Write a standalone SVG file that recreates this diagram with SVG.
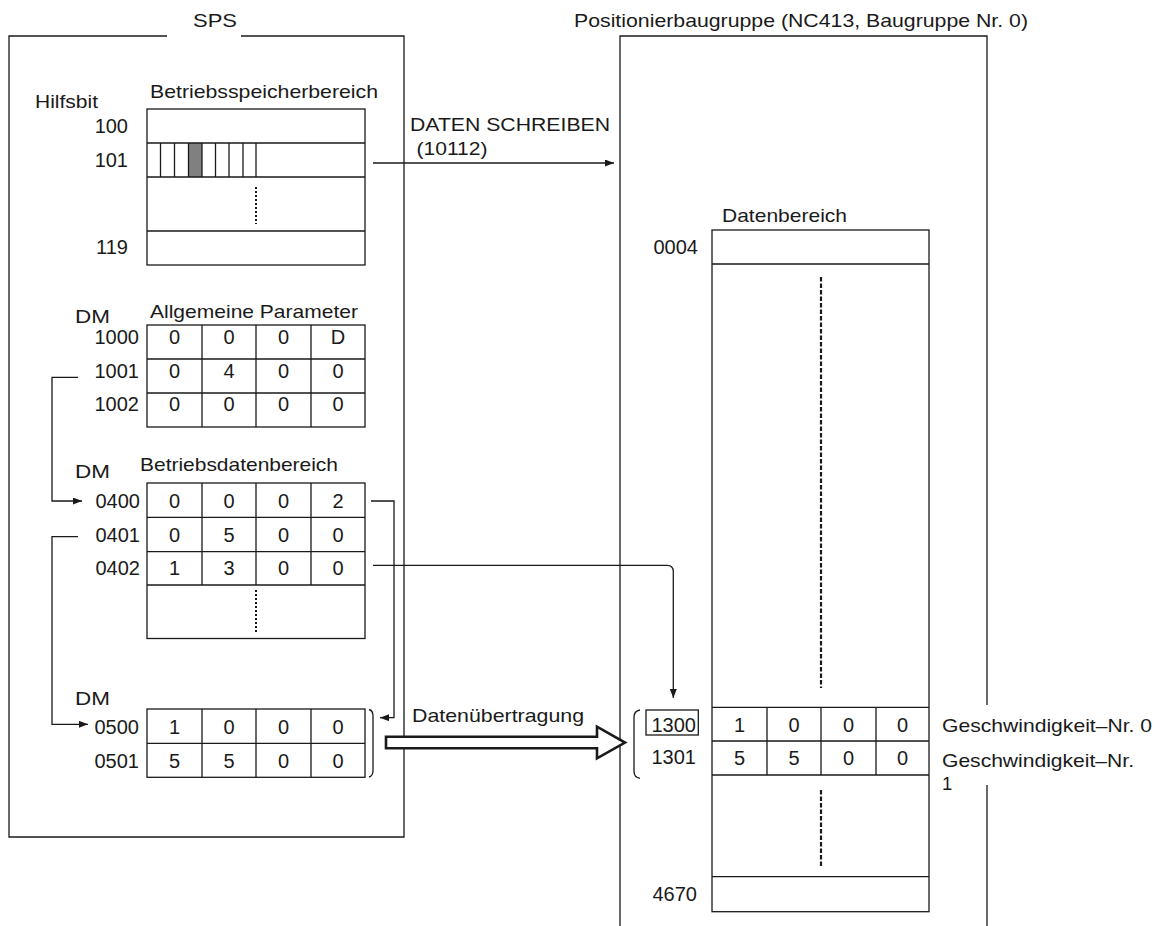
<svg xmlns="http://www.w3.org/2000/svg" width="1161" height="926" viewBox="0 0 1161 926">
<defs>
<style>
.ln{fill:none;stroke:#1a1a1a;stroke-width:1.3}
.bx{fill:#fff;stroke:#1a1a1a;stroke-width:1.3}
.dot{fill:none;stroke:#1a1a1a;stroke-width:2;stroke-dasharray:2 2}
.dash{fill:none;stroke:#1a1a1a;stroke-width:2.2;stroke-dasharray:4.5 2}
.t{font-family:"Liberation Sans",Arial,sans-serif;font-size:18.5px;fill:#1a1a1a}
.n{font-family:"Liberation Sans",Arial,sans-serif;font-size:20px;fill:#1a1a1a}
.c{text-anchor:middle}
.r{text-anchor:end}
</style>
<marker id="ah" markerUnits="userSpaceOnUse" markerWidth="10" markerHeight="8" refX="9" refY="3.5" orient="auto">
<path d="M0,0 L9,3.5 L0,7 z" fill="#1a1a1a"/>
</marker>
</defs>
<rect width="1161" height="926" fill="#fff"/>

<g id="sps">
<path class="ln" d="M167,36 H9 V837 H404 V36 H241"/>
<text class="t" x="193" y="26.5" textLength="44" lengthAdjust="spacingAndGlyphs">SPS</text>
</g>

<g id="positionierbaugruppe">
<path class="ln" d="M620,926 V36 H987 V705 M987,785 V926"/>
<text class="t" x="574" y="26.5" textLength="454" lengthAdjust="spacingAndGlyphs">Positionierbaugruppe (NC413, Baugruppe Nr. 0)</text>
</g>

<g id="betriebsspeicher">
<text class="t" x="35" y="108" textLength="63" lengthAdjust="spacingAndGlyphs">Hilfsbit</text>
<text class="t" x="150" y="97.5" textLength="228" lengthAdjust="spacingAndGlyphs">Betriebsspeicherbereich</text>
<rect x="188.5" y="143" width="13.5" height="34" fill="#808080"/>
<rect class="ln" x="147" y="109" width="218" height="156"/>
<path class="ln" d="M147,143 H365 M147,177 H365 M147,231 H365 M160.5,143 V177 M174.5,143 V177 M188.5,143 V177 M202,143 V177 M215.5,143 V177 M229,143 V177 M243,143 V177 M256,143 V177"/>
<path class="dot" d="M256,187 V224"/>
<text class="n r" x="128" y="132.5">100</text>
<text class="n r" x="128" y="166.5">101</text>
<text class="n r" x="128" y="254">119</text>
</g>

<g id="allgemeine-parameter">
<text class="t" x="150" y="318" textLength="208" lengthAdjust="spacingAndGlyphs">Allgemeine Parameter</text>
<text class="t" x="75" y="323" textLength="35" lengthAdjust="spacingAndGlyphs">DM</text>
<rect class="ln" x="147" y="325" width="218" height="102"/>
<path class="ln" d="M147,359 H365 M147,393 H365 M202,325 V427 M256,325 V427 M311,325 V427"/>
<text class="n r" x="139" y="344">1000</text>
<text class="n r" x="139" y="377.5">1001</text>
<text class="n r" x="139" y="411">1002</text>
<text class="n c" x="174.5" y="344">0</text><text class="n c" x="229" y="344">0</text><text class="n c" x="283.5" y="344">0</text><text class="n c" x="338" y="344">D</text>
<text class="n c" x="174.5" y="377.5">0</text><text class="n c" x="229" y="377.5">4</text><text class="n c" x="283.5" y="377.5">0</text><text class="n c" x="338" y="377.5">0</text>
<text class="n c" x="174.5" y="411">0</text><text class="n c" x="229" y="411">0</text><text class="n c" x="283.5" y="411">0</text><text class="n c" x="338" y="411">0</text>
</g>

<g id="betriebsdatenbereich">
<text class="t" x="140" y="470.5" textLength="198" lengthAdjust="spacingAndGlyphs">Betriebsdatenbereich</text>
<text class="t" x="75" y="478" textLength="35" lengthAdjust="spacingAndGlyphs">DM</text>
<rect class="ln" x="147" y="483" width="218" height="155.5"/>
<path class="ln" d="M147,517.3 H365 M147,551.7 H365 M147,585 H365 M202,483 V585 M256,483 V585 M311,483 V585"/>
<path class="dot" d="M256,590 V632"/>
<text class="n r" x="140" y="508.3">0400</text>
<text class="n r" x="140" y="541.7">0401</text>
<text class="n r" x="140" y="575">0402</text>
<text class="n c" x="174.5" y="508.3">0</text><text class="n c" x="229" y="508.3">0</text><text class="n c" x="283.5" y="508.3">0</text><text class="n c" x="338" y="508.3">2</text>
<text class="n c" x="174.5" y="541.7">0</text><text class="n c" x="229" y="541.7">5</text><text class="n c" x="283.5" y="541.7">0</text><text class="n c" x="338" y="541.7">0</text>
<text class="n c" x="174.5" y="575">1</text><text class="n c" x="229" y="575">3</text><text class="n c" x="283.5" y="575">0</text><text class="n c" x="338" y="575">0</text>
</g>

<g id="dm0500">
<text class="t" x="75" y="705" textLength="35" lengthAdjust="spacingAndGlyphs">DM</text>
<rect class="ln" x="147" y="709" width="218" height="68.3"/>
<path class="ln" d="M147,743.3 H365 M202,709 V777.3 M256,709 V777.3 M311,709 V777.3"/>
<path class="ln" d="M369,709.5 Q373,710.5 373,716 V770.5 Q373,776 369,777"/>
<text class="n r" x="139" y="734">0500</text>
<text class="n r" x="139" y="767.5">0501</text>
<text class="n c" x="174.5" y="734">1</text><text class="n c" x="229" y="734">0</text><text class="n c" x="283.5" y="734">0</text><text class="n c" x="338" y="734">0</text>
<text class="n c" x="174.5" y="767.5">5</text><text class="n c" x="229" y="767.5">5</text><text class="n c" x="283.5" y="767.5">0</text><text class="n c" x="338" y="767.5">0</text>
</g>

<g id="datenbereich">
<text class="t" x="722" y="221.5" textLength="125" lengthAdjust="spacingAndGlyphs">Datenbereich</text>
<rect class="ln" x="712" y="230" width="217" height="681.7"/>
<path class="ln" d="M712,264 H929 M712,707.3 H929 M712,741 H929 M712,775 H929 M712,876.7 H929 M767,707.3 V775 M821,707.3 V775 M876,707.3 V775"/>
<path class="dash" d="M821,277 V688 M821,790 V867"/>
<text class="n r" x="698" y="254">0004</text>
<text class="n r" x="697" y="901">4670</text>
<path class="ln" d="M640,710 Q634,711 634,717 V771 Q634,777.5 640,778.3"/>
<rect class="ln" x="646" y="710" width="52.3" height="25"/>
<text class="n r" x="696" y="731.7">1300</text>
<text class="n r" x="696" y="764">1301</text>
<text class="n c" x="739.5" y="731.7">1</text><text class="n c" x="794" y="731.7">0</text><text class="n c" x="848.5" y="731.7">0</text><text class="n c" x="902.5" y="731.7">0</text>
<text class="n c" x="739.5" y="765">5</text><text class="n c" x="794" y="765">5</text><text class="n c" x="848.5" y="765">0</text><text class="n c" x="902.5" y="765">0</text>
<text class="t" x="942" y="731.7" textLength="210" lengthAdjust="spacingAndGlyphs">Geschwindigkeit–Nr. 0</text>
<text class="t" x="942" y="766.5" textLength="192" lengthAdjust="spacingAndGlyphs">Geschwindigkeit–Nr.</text>
<text class="t" x="942" y="790">1</text>
</g>

<g id="connectors">
<path class="ln" d="M373,163 H614" marker-end="url(#ah)"/>
<text class="t" x="410" y="130.5" textLength="200" lengthAdjust="spacingAndGlyphs">DATEN SCHREIBEN</text>
<text class="t" x="416.5" y="155" textLength="71" lengthAdjust="spacingAndGlyphs">(10112)</text>
<path class="ln" d="M78,377.3 H52 V501 H82" marker-end="url(#ah)"/>
<path class="ln" d="M78,536.7 H52 V724.3 H88" marker-end="url(#ah)"/>
<path class="ln" d="M371,501 H394 V717.7 H380" marker-end="url(#ah)"/>
<path class="ln" d="M373,565.3 H667 Q673.3,565.3 673.3,571.5 V698" marker-end="url(#ah)"/>
<polygon points="386,736.7 597,736.7 597,726.7 625,742.6 597,758.3 597,748.3 386,748.3" fill="#fff" stroke="#1a1a1a" stroke-width="2.6" stroke-linejoin="miter"/>
<text class="t" x="412" y="722" textLength="172" lengthAdjust="spacingAndGlyphs">Datenübertragung</text>
</g>
</svg>
